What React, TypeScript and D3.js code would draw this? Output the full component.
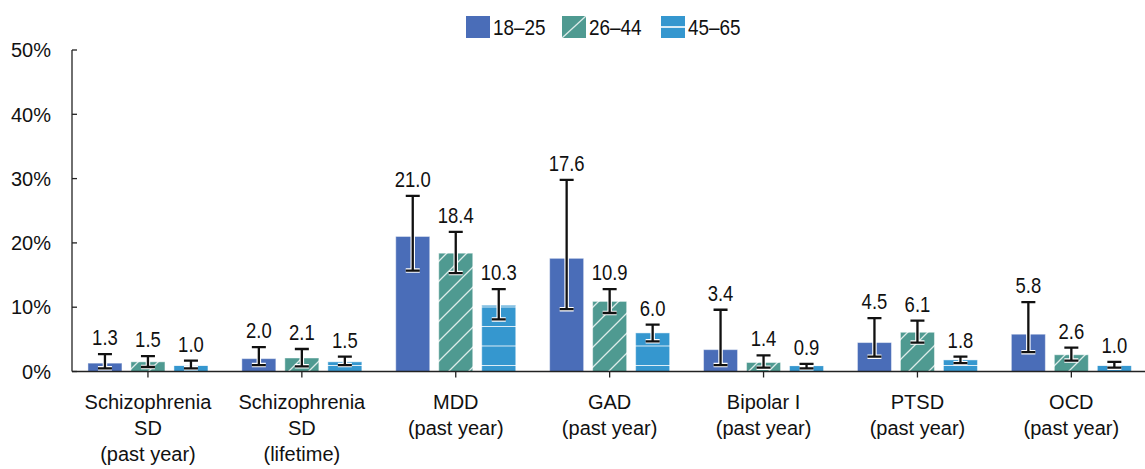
import React from "react";
import * as d3 from "d3";

const categories: string[][] = [
  ["Schizophrenia", "SD", "(past year)"],
  ["Schizophrenia", "SD", "(lifetime)"],
  ["MDD", "(past year)"],
  ["GAD", "(past year)"],
  ["Bipolar I", "(past year)"],
  ["PTSD", "(past year)"],
  ["OCD", "(past year)"],
];
const ageGroups = ["18–25", "26–44", "45–65"];

const values18_25 = [1.3, 2.0, 21.0, 17.6, 3.4, 4.5, 5.8];
const values26_44 = [1.5, 2.1, 18.4, 10.9, 1.4, 6.1, 2.6];
const values45_65 = [1.0, 1.5, 10.3, 6.0, 0.9, 1.8, 1.0];

const low18_25 = [0.5, 1.0, 15.7, 9.7, 1.0, 2.3, 3.0];
const high18_25 = [2.7, 3.8, 27.3, 29.8, 9.6, 8.3, 10.8];
const low26_44 = [0.7, 0.8, 15.3, 9.1, 0.6, 4.5, 1.7];
const high26_44 = [2.4, 3.5, 21.7, 12.8, 2.5, 7.9, 3.7];
const low45_65 = [0.5, 1.0, 8.1, 4.7, 0.5, 1.3, 0.6];
const high45_65 = [1.7, 2.3, 12.8, 7.3, 1.2, 2.3, 1.5];

const yTicks = [0, 10, 20, 30, 40, 50];

const W = 1145;
const H = 469;
const FONT = "'Liberation Sans', Arial, Helvetica, sans-serif";
const COLORS = ["#4a6db8", "#4f9a91", "#3597cf"];

export default function App() {
  const keys = categories.map((c) => c.join(" "));
  const x = d3.scaleBand<string>().domain(keys).range([71, 71 + 7 * 153.9]);
  const sub = d3.scaleBand<string>().domain(ageGroups).range([-60, 60]).paddingInner(9 / 43);
  const y = d3.scaleLinear().domain([0, 50]).range([371.5, 50]);

  const series = [
    { key: ageGroups[0], vals: values18_25, lo: low18_25, hi: high18_25, fill: COLORS[0] },
    { key: ageGroups[1], vals: values26_44, lo: low26_44, hi: high26_44, fill: "url(#diag)" },
    { key: ageGroups[2], vals: values45_65, lo: low45_65, hi: high45_65, fill: "url(#horiz)" },
  ];

  const axisX = x.range()[0] + 1;
  const cap = 7;

  return (
    <svg width={W} height={H} style={{ position: "absolute", left: 0, top: 0, background: "#fff" }}>
      <defs>
        <pattern id="diag" patternUnits="userSpaceOnUse" width={20} height={20}>
          <rect width={20} height={20} fill={COLORS[1]} />
          <path d="M-5,5 L5,-5 M0,20 L20,0 M15,25 L25,15" stroke="#fff" strokeOpacity={0.8} strokeWidth={1.3} />
        </pattern>
        <pattern id="horiz" patternUnits="userSpaceOnUse" width={20} height={19.5} y={371.5 - 6.5}>
          <rect width={20} height={19.5} fill={COLORS[2]} />
          <line x1={0} x2={20} y1={0} y2={0} stroke="#fff" strokeOpacity={0.9} strokeWidth={1.8} />
        </pattern>
      </defs>

      {/* bars */}
      {series.map((s) => (
        <g key={s.key}>
          {s.vals.map((v, i) => {
            const cx = x(keys[i])! + x.bandwidth() / 2;
            const bx = cx + sub(s.key)!;
            return (
              <rect
                key={i}
                x={bx}
                y={y(v)}
                width={sub.bandwidth()}
                height={y(0) - y(v)}
                fill={s.fill}
                stroke="#ffffff"
                strokeOpacity={0.45}
                strokeWidth={1}
              />
            );
          })}
        </g>
      ))}

      {/* axes */}
      <g stroke="#222" strokeWidth={1.3} fill="none">
        <line x1={axisX} x2={axisX} y1={y(50)} y2={y(0)} />
        <line x1={axisX} x2={W} y1={y(0)} y2={y(0)} />
        {yTicks.map((t) => (
          <line key={t} x1={axisX} x2={axisX + 5} y1={y(t)} y2={y(t)} />
        ))}
        {keys.map((k) => {
          const cx = x(k)! + x.bandwidth() / 2;
          return <line key={k} x1={cx} x2={cx} y1={y(0)} y2={y(0) + 6} />;
        })}
      </g>

      {/* error bars */}
      {series.map((s) => (
        <g key={"e" + s.key}>
          {s.vals.map((v, i) => {
            const cx = x(keys[i])! + x.bandwidth() / 2 + sub(s.key)! + sub.bandwidth() / 2;
            const yl = y(s.lo[i]);
            const yh = y(s.hi[i]);
            const d = `M${cx},${yl}V${yh}M${cx - cap},${yh}H${cx + cap}M${cx - cap},${yl}H${cx + cap}`;
            return (
              <g key={i}>
                <path d={d} stroke="#fff" strokeWidth={4.5} fill="none" />
                <path d={d} stroke="#111" strokeWidth={2.3} fill="none" />
              </g>
            );
          })}
        </g>
      ))}

      {/* value labels */}
      {series.map((s) => (
        <g key={"l" + s.key}>
          {s.vals.map((v, i) => {
            const cx = x(keys[i])! + x.bandwidth() / 2 + sub(s.key)! + sub.bandwidth() / 2;
            return (
              <text
                key={i}
                transform={`translate(${cx},${y(s.hi[i]) - 9}) scale(0.84,1)`}
                textAnchor="middle"
                fontFamily={FONT}
                fontSize={22}
                fill="#111"
              >
                {v.toFixed(1)}
              </text>
            );
          })}
        </g>
      ))}

      {/* y tick labels */}
      {yTicks.map((t) => (
        <text
          key={t}
          x={51}
          y={y(t)}
          dy="0.36em"
          textAnchor="end"
          fontFamily={FONT}
          fontSize={20}
          fill="#111"
        >
          {t}%
        </text>
      ))}

      {/* category labels */}
      {categories.map((lines, i) => {
        const cx = x(keys[i])! + x.bandwidth() / 2;
        return (
          <text key={i} textAnchor="middle" fontFamily={FONT} fontSize={20} fill="#111">
            {lines.map((ln, j) => (
              <tspan key={j} x={cx} y={409 + j * 26}>
                {ln}
              </tspan>
            ))}
          </text>
        );
      })}

      {/* legend */}
      <g>
        {[466, 562, 661].map((lx, i) => (
          <g key={i}>
            <rect x={lx} y={16} width={24} height={22} fill={COLORS[i]} />
            {i === 1 && <line x1={lx} y1={38} x2={lx + 24} y2={16} stroke="#fff" strokeOpacity={0.8} strokeWidth={1.3} />}
            {i === 2 && <line x1={lx} y1={27} x2={lx + 24} y2={27} stroke="#fff" strokeOpacity={0.9} strokeWidth={1.8} />}
            <text
              transform={`translate(${lx + 27},${27}) scale(0.86,1)`}
              dy="0.36em"
              fontFamily={FONT}
              fontSize={22}
              fill="#111"
            >
              {ageGroups[i]}
            </text>
          </g>
        ))}
      </g>
    </svg>
  );
}
